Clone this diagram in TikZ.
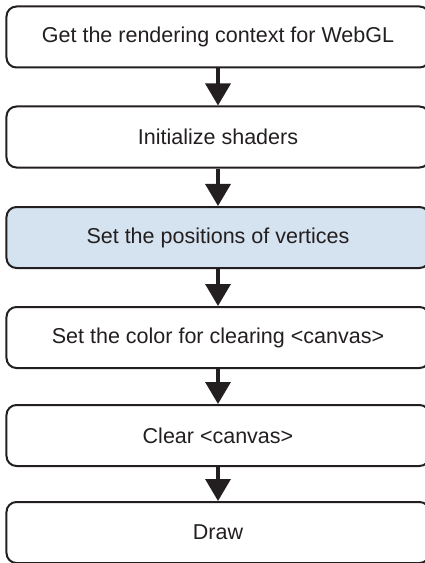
\documentclass[tikz,border=0pt]{standalone}
\usepackage{tikz}
\usetikzlibrary{arrows.meta}
\usepackage{fontspec}
\setmainfont{Liberation Sans}
\usepackage{xcolor}
\definecolor{glline}{HTML}{231F20}
\definecolor{glblue}{HTML}{D5E2EF}

\begin{document}
\begin{tikzpicture}[x=1bp, y=1bp, font=\fontsize{21.5bp}{25bp}\selectfont,
    stepbox/.style={draw=glline, line width=2bp, rounded corners=10bp, fill=white,
      text=glline, minimum width=423bp, minimum height=61bp, inner sep=0pt},
    flow/.style={glline, line width=3.5bp, -{Triangle[width=25bp, length=22bp]}}]
    \useasboundingbox (0,0) rectangle (424,-563);
    \node[stepbox] (ctx) at (218,-37) {Get the rendering context for WebGL};
    \node[stepbox] (shd) at (218,-137) {Initialize shaders};
    \node[stepbox, fill=glblue] (pos) at (218,-237.5) {Set the positions of vertices};
    \node[stepbox] (col) at (218,-337.5) {Set the color for clearing <canvas>};
    \node[stepbox] (clr) at (218,-435.5) {Clear <canvas>};
    \node[stepbox] (drw) at (218,-532.5) {Draw};
    \draw[flow] (ctx) -- (shd);
    \draw[flow] (shd) -- (pos);
    \draw[flow] (pos) -- (col);
    \draw[flow] (col) -- (clr);
    \draw[flow] (clr) -- (drw);
  \end{tikzpicture}
\end{document}
